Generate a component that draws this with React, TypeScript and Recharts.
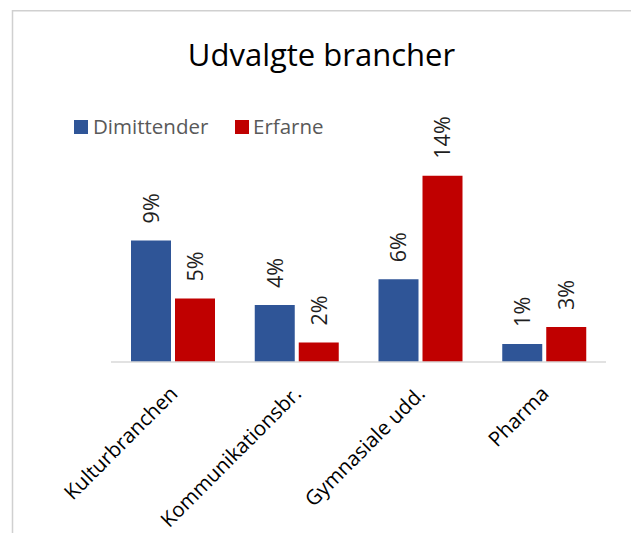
import React from 'react';
import { BarChart, Bar, XAxis, YAxis, LabelList } from 'recharts';

// Branche-kategorier og andele (%)
const categories = ['Kulturbranchen', 'Kommunikationsbr.', 'Gymnasiale udd.', 'Pharma'];
const dimittender = [9.4, 4.4, 6.4, 1.4];
const erfarne = [4.9, 1.5, 14.4, 2.7];
const yDomain = [0, 16];

const data = categories.map((name, i) => ({
  name,
  dimittender: dimittender[i],
  erfarne: erfarne[i],
}));

const FONT = '"Open Sans", "Noto Sans", sans-serif';
const BLUE = '#2F5597';
const RED = '#C00000';

const BarLabel = (props: any) => {
  const { x, y, width, value } = props;
  const cx = x + width / 2;
  return (
    <g transform={`translate(${cx},${y - 17}) rotate(-90)`}>
      <text x={0} y={0} dy="0.36em" textAnchor="start" fontSize={21.5} fontFamily={FONT} fill="#1f1f1f">
        {`${Math.round(value)}%`}
      </text>
    </g>
  );
};

const CategoryTick = (props: any) => {
  const { x, y, payload } = props;
  const tx = x + 6;
  const ty = y + 25;
  return (
    <text
      x={tx}
      y={ty}
      transform={`rotate(-45, ${tx}, ${ty})`}
      textAnchor="end"
      fontSize={20.5}
      fontFamily={FONT}
      fill="#000"
    >
      {payload.value}
    </text>
  );
};

const App: React.FC = () => {
  return (
    <div style={{ position: 'absolute', left: 0, top: 0, width: 631, height: 533, background: '#fff', overflow: 'hidden' }}>
      <BarChart
        width={631}
        height={533}
        data={data}
        margin={{ top: 155, right: 25, left: 111, bottom: 31 }}
        barSize={40}
        barGap={4}
      >
        <XAxis
          dataKey="name"
          height={140}
          axisLine={{ stroke: '#d9d9d9', strokeWidth: 1.5 }}
          tickLine={false}
          tick={<CategoryTick />}
          interval={0}
        />
        <YAxis hide domain={yDomain} />
        <Bar dataKey="dimittender" name="Dimittender" fill={BLUE} isAnimationActive={false}>
          <LabelList dataKey="dimittender" content={<BarLabel />} />
        </Bar>
        <Bar dataKey="erfarne" name="Erfarne" fill={RED} isAnimationActive={false}>
          <LabelList dataKey="erfarne" content={<BarLabel />} />
        </Bar>
      </BarChart>
      <svg
        width={631}
        height={533}
        style={{ position: 'absolute', left: 0, top: 0, pointerEvents: 'none' }}
      >
        <line x1={12.5} y1={10.75} x2={631} y2={10.75} stroke="#d0d0d0" strokeWidth={1.5} />
        <line x1={12.5} y1={10} x2={12.5} y2={533} stroke="#d0d0d0" strokeWidth={1.5} />
        <text x={321.5} y={66} textAnchor="middle" fontSize={31} fontFamily={FONT} fill="#000">
          Udvalgte brancher
        </text>
        <rect x={74} y={120} width={14} height={14} fill={BLUE} />
        <text x={93} y={134} fontSize={20.5} fontFamily={FONT} fill="#595959">Dimittender</text>
        <rect x={235} y={120} width={14} height={14} fill={RED} />
        <text x={253} y={134} fontSize={20.5} fontFamily={FONT} fill="#595959">Erfarne</text>
      </svg>
    </div>
  );
};

export default App;
